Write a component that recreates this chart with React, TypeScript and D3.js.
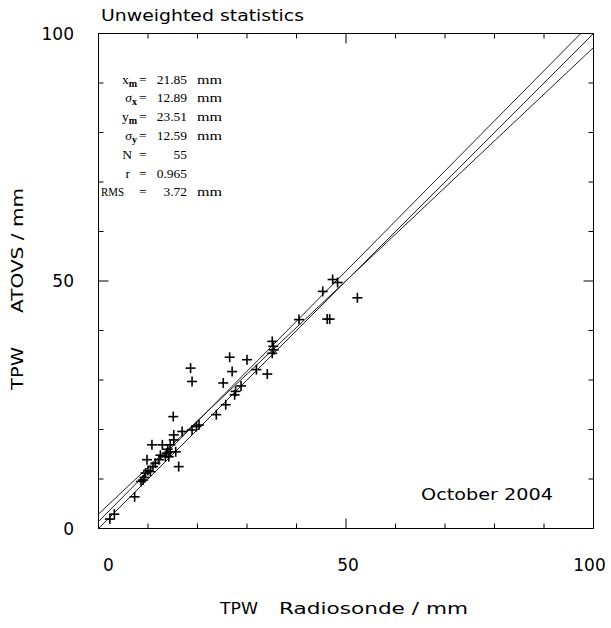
import React from 'react';
import * as d3 from 'd3';

// ---- data ----
const radiosonde = [2.3, 3.2, 7.3, 8.6, 9.0, 9.5, 10.0, 10.5, 9.8, 10.8, 12.2, 12.9, 13.5, 14.2, 14.5, 14.5, 15.2, 15.2, 15.1, 15.6, 16.2, 16.9, 18.9, 19.8, 20.3, 18.6, 18.9, 23.8, 25.2, 25.7, 26.5, 27.0, 27.5, 27.7, 28.8, 30.0, 31.9, 34.1, 35.1, 35.3, 35.4, 35.1, 40.5, 45.3, 46.2, 46.7, 47.3, 48.3, 52.3, 11.5, 12.5, 13.8, 11.0, 14.0, 9.3];
const atovs = [1.9, 2.9, 6.4, 9.5, 9.8, 11.2, 11.7, 11.5, 13.9, 16.9, 13.9, 16.9, 14.5, 14.5, 15.5, 16.9, 17.9, 18.9, 22.6, 15.5, 12.5, 19.6, 19.9, 20.6, 20.9, 32.4, 29.7, 23.0, 29.4, 25.0, 34.6, 31.7, 27.0, 27.7, 28.8, 34.1, 32.1, 31.2, 37.8, 36.8, 36.1, 35.4, 42.2, 47.9, 42.3, 42.3, 50.3, 49.7, 46.6, 13.2, 14.8, 15.2, 12.5, 16.0, 10.3];

const xMean = 21.85;
const xSigma = 12.89;
const yMean = 23.51;
const ySigma = 12.59;
const nPoints = 55;
const corr = 0.965;
const rms = 3.72;

const tickValues = d3.range(0, 101, 10);
const labelTicks = [0, 50, 100];
const statLabels = ['x', 'σ', 'y', 'σ', 'N', 'r', 'RMS'];
const statSubs = ['m', 'x', 'm', 'y', '', '', ''];
const statValues = [xMean.toFixed(2), xSigma.toFixed(2), yMean.toFixed(2), ySigma.toFixed(2), String(nPoints), corr.toFixed(3), rms.toFixed(2)];
const statUnits = ['mm', 'mm', 'mm', 'mm', '', '', 'mm'];

// ---- layout ----
const W = 611, H = 628;
const X0 = 98.5, X1 = 593.5, Y0 = 528.5, Y1 = 33.5;
const sans = 'DejaVu Sans, sans-serif';
const serif = 'Liberation Serif, serif';

export default function App() {
  const x = d3.scaleLinear().domain([0, 100]).range([X0, X1]);
  const y = d3.scaleLinear().domain([0, 100]).range([Y0, Y1]);

  const b1 = corr * ySigma / xSigma;
  const a1 = yMean - b1 * xMean;
  const b2 = ySigma / (corr * xSigma);
  const a2 = yMean - b2 * xMean;
  const fits = [
    { a: a1, b: b1 },
    { a: a2, b: b2 },
    { a: 0, b: 1 },
  ];
  const line = d3.line<[number, number]>().x(d => x(d[0])).y(d => y(d[1]));

  const xLabelDx = [10, 2, -4];
  const labelEnds = [137, 137, 137, 137, 132, 130, 122];
  const arm = 5;

  return (
    <svg width={W} height={H} style={{ position: 'absolute', left: 0, top: 0, background: '#fff' }}>
      <defs>
        <clipPath id="frame">
          <rect x={X0} y={Y1} width={X1 - X0} height={Y0 - Y1} />
        </clipPath>
      </defs>
      <rect x={0} y={0} width={W} height={H} fill="#fff" />
      <text x={101} y={21} fontFamily={sans} fontSize={16.5} textLength={203} lengthAdjust="spacingAndGlyphs">Unweighted statistics</text>

      {/* frame */}
      <rect x={X0} y={Y1} width={X1 - X0} height={Y0 - Y1} fill="none" stroke="#000" strokeWidth={1} />
      {tickValues.map(v => {
        const len = v === 50 ? 10 : 5;
        return (
          <g key={'t' + v} stroke="#000" strokeWidth={1}>
            <line x1={x(v)} x2={x(v)} y1={Y0} y2={Y0 - len} />
            <line x1={x(v)} x2={x(v)} y1={Y1} y2={Y1 + len} />
            <line x1={X0} x2={X0 + len} y1={y(v)} y2={y(v)} />
            <line x1={X1} x2={X1 - len} y1={y(v)} y2={y(v)} />
          </g>
        );
      })}
      {labelTicks.map((v, i) => (
        <text key={'xl' + v} x={x(v) + xLabelDx[i]} y={571} textAnchor="middle" fontFamily={sans} fontSize={17}>{v}</text>
      ))}
      {labelTicks.map(v => (
        <text key={'yl' + v} x={74} y={y(v) + 6} textAnchor="end" fontFamily={sans} fontSize={17}>{v}</text>
      ))}

      {/* axis titles */}
      <text x={220} y={614} fontFamily={sans} fontSize={16.5} textLength={38} lengthAdjust="spacingAndGlyphs">TPW</text>
      <text x={279} y={614} fontFamily={sans} fontSize={16.5} textLength={189} lengthAdjust="spacingAndGlyphs">Radiosonde / mm</text>
      <g transform="translate(23,0) rotate(-90)">
        <text x={-390} y={0} fontFamily={sans} fontSize={16.5} textLength={43} lengthAdjust="spacingAndGlyphs">TPW</text>
        <text x={-313} y={0} fontFamily={sans} fontSize={16.5} textLength={125} lengthAdjust="spacingAndGlyphs">ATOVS / mm</text>
      </g>

      {/* fit lines */}
      <g clipPath="url(#frame)">
        {fits.map((f, i) => (
          <path key={'f' + i} d={line([[-5, f.a - 5 * f.b], [105, f.a + 105 * f.b]]) || ''} fill="none" stroke="#222" strokeWidth={1} />
        ))}
      </g>

      {/* points */}
      <g stroke="#000" strokeWidth={1.6}>
        {radiosonde.map((xv, i) => {
          const cx = x(xv), cy = y(atovs[i]);
          return (
            <g key={'p' + i}>
              <line x1={cx - arm} x2={cx + arm} y1={cy} y2={cy} />
              <line x1={cx} x2={cx} y1={cy - arm} y2={cy + arm} />
            </g>
          );
        })}
      </g>

      {/* stats */}
      {statLabels.map((lab, i) => {
        const by = 83.5 + i * 18.8;
        return (
          <g key={'s' + i} fontFamily={serif} fontSize={13.5}>
            {lab === 'RMS' ? (
              <text x={101} y={by} textLength={23} lengthAdjust="spacingAndGlyphs">RMS</text>
            ) : (
              <text x={labelEnds[i]} y={by} textAnchor="end">
                <tspan fontStyle={lab === 'σ' ? 'italic' : 'normal'}>{lab}</tspan>
                {statSubs[i] ? <tspan dy={3} fontSize={10} fontWeight="bold">{statSubs[i]}</tspan> : null}
              </text>
            )}
            <text x={139} y={by}>=</text>
            <text x={187} y={by} textAnchor="end">{statValues[i]}</text>
            {statUnits[i] ? <text x={197} y={by} textLength={25} lengthAdjust="spacingAndGlyphs">{statUnits[i]}</text> : null}
          </g>
        );
      })}

      <text x={421} y={500} fontFamily={sans} fontSize={16.5} textLength={132} lengthAdjust="spacingAndGlyphs">October 2004</text>
    </svg>
  );
}
